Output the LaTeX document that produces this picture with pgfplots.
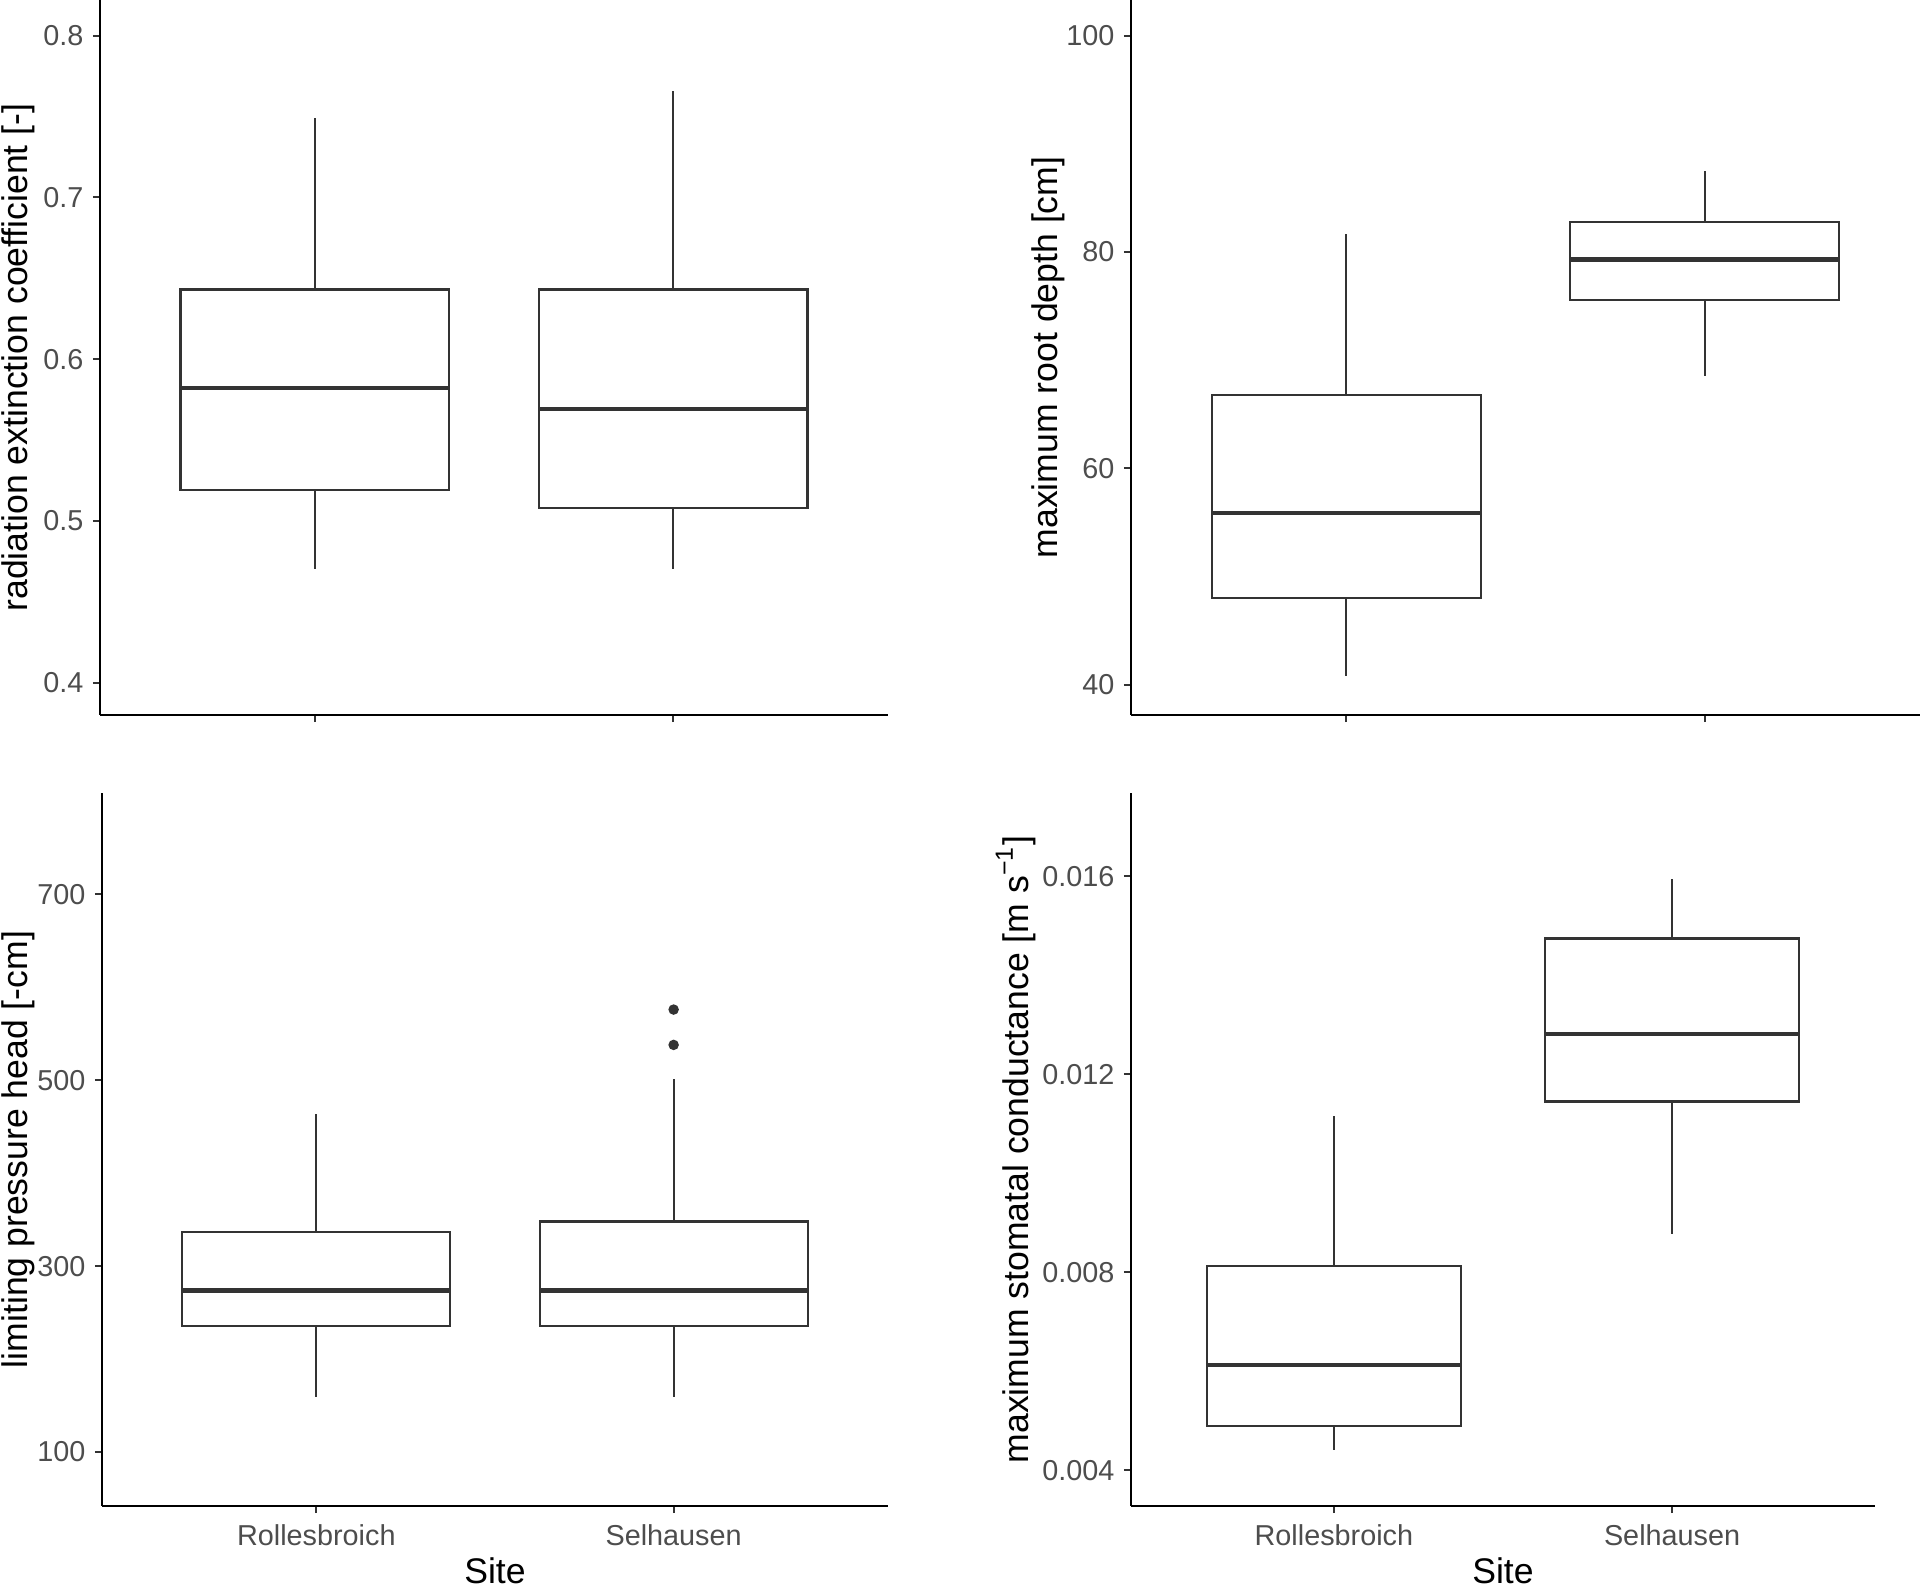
\documentclass[border=0pt]{standalone}
\usepackage{fontspec}
\setmainfont{Liberation Sans}
\usepackage{pgfplots}
\pgfplotsset{compat=1.18}
\usepgfplotslibrary{statistics}
\definecolor{gray20}{HTML}{333333}
\definecolor{gray30}{HTML}{4D4D4D}

\pgfplotsset{
  ggbox/.style={
    scale only axis, anchor=south west,
    xmin=0.4, xmax=2.6, xtick={1,2},
    axis x line=bottom, axis y line=left,
    axis line style={-, line width=0.55pt, black},
    tick align=outside, major tick length=1.8pt,
    tick style={line width=0.5pt, gray20},
    ticklabel style={font=\fontsize{7.2}{8}\selectfont, text=gray30},
    yticklabel style={xshift=1.2pt},
    xticklabel style={yshift=0.7pt},
    label style={font=\fontsize{8.9}{10}\selectfont, text=black},
    /pgf/number format/assume math mode=true,
    scaled y ticks=false,
    clip=false,
    boxplot/draw direction=y,
    boxplot/box extend=0.75,
    boxplot/whisker extend=0,
    boxplot/every box/.style={draw=gray20, line width=0.55pt},
    boxplot/every median/.style={draw=gray20, line width=1.1pt},
    boxplot/every whisker/.style={draw=gray20, line width=0.5pt},
  },
  bx/.style={draw=gray20, mark=*, mark size=1.1pt, mark options={fill=gray20, draw=gray20}},
}

\begin{document}
\begin{tikzpicture}
\path[use as bounding box] (0,0) rectangle (480pt,396.5pt);

% radiation extinction coefficient
\begin{axis}[ggbox, at={(25pt,217.75pt)}, width=197pt, height=178.75pt,
  ymin=0.380, ymax=0.822, ytick={0.4,0.5,0.6,0.7,0.8},
  yticklabels={0.4,0.5,0.6,0.7,0.8}, xticklabels={},
  ylabel={radiation extinction coefficient [-]},
  ylabel style={at={(axis description cs:-0.104,0.5)}, anchor=center}]
\addplot[bx, boxplot prepared={lower whisker=0.470, lower quartile=0.519,
  median=0.582, upper quartile=0.643, upper whisker=0.749, draw position=1}]
  coordinates {};
\addplot[bx, boxplot prepared={lower whisker=0.470, lower quartile=0.508,
  median=0.569, upper quartile=0.643, upper whisker=0.766, draw position=2}]
  coordinates {};
\end{axis}

% maximum root depth
\begin{axis}[ggbox, at={(282.75pt,217.75pt)}, width=197.25pt, height=178.75pt,
  ymin=37.2, ymax=103.3, ytick={40,60,80,100},
  yticklabels={40,60,80,100}, xticklabels={},
  ylabel={maximum root depth [cm]},
  ylabel style={at={(axis description cs:-0.105,0.5)}, anchor=center}]
\addplot[bx, boxplot prepared={lower whisker=40.8, lower quartile=48.0,
  median=55.9, upper quartile=66.8, upper whisker=81.7, draw position=1}]
  coordinates {};
\addplot[bx, boxplot prepared={lower whisker=68.5, lower quartile=75.6,
  median=79.3, upper quartile=82.8, upper whisker=87.5, draw position=2}]
  coordinates {};
\end{axis}

% limiting pressure head
\begin{axis}[ggbox, at={(25.5pt,20pt)}, width=196.5pt, height=178.25pt,
  ymin=42, ymax=809, ytick={100,300,500,700},
  yticklabels={100,300,500,700}, xticklabels={Rollesbroich,Selhausen},
  ylabel={limiting pressure head [-cm]}, xlabel={Site},
  ylabel style={at={(axis description cs:-0.106,0.5)}, anchor=center},
  xlabel style={at={(axis description cs:0.5,-0.091)}, anchor=center}]
\addplot[bx, boxplot prepared={lower whisker=159, lower quartile=236,
  median=274, upper quartile=337, upper whisker=464, draw position=1}]
  coordinates {};
\addplot[bx, boxplot prepared={lower whisker=159, lower quartile=236,
  median=274, upper quartile=348, upper whisker=501, draw position=2}]
  table[row sep=\\, y index=0] {data\\ 576\\ 538\\};
\end{axis}

% maximum stomatal conductance
\begin{axis}[ggbox, at={(282.75pt,20pt)}, width=186pt, height=178.25pt,
  ymin=0.00328, ymax=0.01768, ytick={0.004,0.008,0.012,0.016},
  yticklabels={0.004,0.008,0.012,0.016}, xticklabels={Rollesbroich,Selhausen},
  ylabel={maximum stomatal conductance [m s\textsuperscript{−1}]}, xlabel={Site},
  ylabel style={at={(axis description cs:-0.155,0.5)}, anchor=center},
  xlabel style={at={(axis description cs:0.5,-0.091)}, anchor=center}]
\addplot[bx, boxplot prepared={lower whisker=0.00442, lower quartile=0.00489,
  median=0.00613, upper quartile=0.00813, upper whisker=0.01115, draw position=1}]
  coordinates {};
\addplot[bx, boxplot prepared={lower whisker=0.00878, lower quartile=0.01145,
  median=0.01281, upper quartile=0.01474, upper whisker=0.01595, draw position=2}]
  coordinates {};
\end{axis}
\end{tikzpicture}
\end{document}
